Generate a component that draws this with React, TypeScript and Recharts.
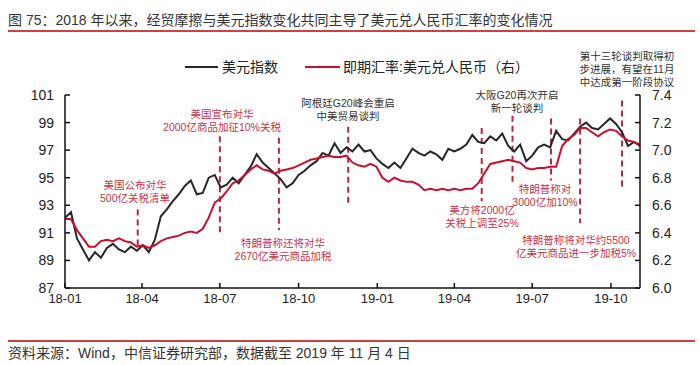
import { LineChart, Line, XAxis, YAxis, ReferenceLine } from "recharts"

const START = Date.UTC(2018, 0, 1)
const DAY = 86400000
const toDay = (s: string) => (Date.parse(s) - START) / DAY

// weekly readings (Mondays), 2018-01-01 .. 2019-11-04
const weekDays = Array.from({ length: 97 }, (_, i) => i * 7)

const dollarIndex = [
  92.1, 92.5, 90.6, 89.8, 89.0, 89.6, 89.2, 89.9, 90.2, 89.8,
  89.6, 90.0, 89.7, 90.1, 89.6, 90.5, 92.2, 92.7, 93.3, 93.8,
  94.4, 94.8, 93.8, 93.9, 95.0, 95.2, 94.3, 94.5, 95.0, 94.6,
  95.2, 95.8, 96.7, 96.1, 95.7, 95.3, 94.9, 94.3, 94.6, 95.2,
  95.5, 95.9, 96.2, 96.8, 96.6, 97.5, 96.8, 97.2, 96.9, 97.4,
  96.9, 97.0, 96.4, 96.0, 95.7, 96.1, 95.7, 96.4, 97.1, 96.8,
  96.6, 96.9, 96.7, 96.3, 97.1, 96.9, 97.1, 97.4, 98.1, 97.6,
  97.5, 98.0, 97.7, 98.2, 97.3, 96.9, 97.4, 96.2, 96.6, 97.2,
  97.4, 97.2, 98.4, 97.8, 97.7, 98.2, 98.7, 99.0, 98.6, 98.5,
  98.9, 99.3, 98.9, 98.3, 97.3, 97.6, 97.3,
]

const usdCny = [
  6.50, 6.50, 6.42, 6.36, 6.30, 6.30, 6.34, 6.35, 6.34, 6.36,
  6.34, 6.33, 6.30, 6.31, 6.29, 6.31, 6.34, 6.36, 6.37, 6.38,
  6.40, 6.41, 6.40, 6.43, 6.51, 6.62, 6.65, 6.70, 6.76, 6.78,
  6.82, 6.86, 6.89, 6.86, 6.85, 6.83, 6.85, 6.86, 6.87, 6.89,
  6.91, 6.93, 6.94, 6.95, 6.96, 6.95, 6.95, 6.96, 6.91, 6.89,
  6.88, 6.90, 6.88, 6.80, 6.77, 6.80, 6.78, 6.77, 6.77, 6.75,
  6.71, 6.72, 6.71, 6.72, 6.71, 6.72, 6.71, 6.72, 6.72, 6.76,
  6.83, 6.90, 6.91, 6.92, 6.93, 6.92, 6.91, 6.87, 6.86, 6.87,
  6.87, 6.88, 6.88, 7.03, 7.08, 7.11, 7.16, 7.16, 7.13, 7.10,
  7.13, 7.15, 7.14, 7.10, 7.07, 7.06, 7.04,
]

const tickLabels = ["18-01", "18-04", "18-07", "18-10", "19-01", "19-04", "19-07", "19-10"]
const tickDays = tickLabels.map((l) => toDay(`20${l}-01`))
const leftTicks = [87, 89, 91, 93, 95, 97, 99, 101]
const rightTicks = [6.0, 6.2, 6.4, 6.6, 6.8, 7.0, 7.2, 7.4]

// event markers: date and the dollar-index span of the dashed line
const eventDates = ["2018-03-27", "2018-07-01", "2018-09-08", "2018-11-28", "2019-05-03", "2019-06-08", "2019-07-23", "2019-08-26", "2019-10-14"]
const eventTop = [92.7, 98.0, 97.9, 98.7, 98.6, 99.5, 99.3, 99.3, 100.6]
const eventBottom = [90.0, 91.0, 91.2, 92.9, 93.3, 94.6, 94.8, 91.7, 94.1]

const BLACK = "#262626"
const RED = "#c8102e"
const NOTE_RED = "#c8324a"
const NOTE_DARK = "#333"
const FONT = "'Liberation Sans', 'Noto Sans CJK SC', sans-serif"

const data = weekDays.map((day, i) => ({ day, dxy: dollarIndex[i], cny: usdCny[i] }))

const notes = [
  { x: 135, y: 185, lines: ["美国公布对华", "500亿关税清单"], color: NOTE_RED },
  { x: 222, y: 114, lines: ["美国宣布对华", "2000亿商品加征10%关税"], color: NOTE_RED },
  { x: 283, y: 243, lines: ["特朗普称还将对华", "2670亿美元商品加税"], color: NOTE_RED },
  { x: 348, y: 103, lines: ["阿根廷G20峰会重启", "中美贸易谈判"], color: NOTE_DARK },
  { x: 482, y: 210, lines: ["美方将2000亿", "关税上调至25%"], color: NOTE_RED },
  { x: 517, y: 95, lines: ["大阪G20再次开启", "新一轮谈判"], color: NOTE_DARK },
  { x: 545, y: 189, lines: ["特朗普称对", "3000亿加10%"], color: NOTE_RED },
  { x: 576, y: 240, lines: ["特朗普称将对华约5500", "亿美元商品进一步加税5%"], color: NOTE_RED },
  { x: 627, y: 56, lines: ["第十三轮谈判取得初", "步进展，有望在11月", "中达成第一阶段协议"], color: NOTE_DARK },
]

export default function App() {
  const axisProps = {
    stroke: "#111",
    strokeWidth: 1.5,
    tickSize: -5,
    tick: { fontSize: 14, fill: "#222", fontFamily: FONT },
  }
  return (
    <div style={{ position: "absolute", left: 0, top: 0, width: 700, height: 365, background: "#fff" }}>
      <LineChart width={700} height={365} data={data} margin={{ top: 95, right: 0, bottom: 47, left: 0 }}>
        <XAxis
          dataKey="day"
          type="number"
          domain={[0, 672]}
          ticks={tickDays}
          tickFormatter={(v: number) => tickLabels[tickDays.indexOf(v)] ?? ""}
          height={30}
          {...axisProps}
          tick={{ fontSize: 13, fill: "#222", fontFamily: FONT }}
          tickMargin={11}
        />
        <YAxis
          yAxisId="left"
          domain={[87, 101]}
          ticks={leftTicks}
          width={65}
          tickMargin={16}
          {...axisProps}
        />
        <YAxis
          yAxisId="right"
          orientation="right"
          domain={[6.0, 7.4]}
          ticks={rightTicks}
          tickFormatter={(v: number) => v.toFixed(1)}
          width={60}
          tickMargin={17}
          {...axisProps}
        />
        {eventDates.map((d, i) => (
          <ReferenceLine
            key={d}
            yAxisId="left"
            segment={[{ x: toDay(d), y: eventTop[i] }, { x: toDay(d), y: eventBottom[i] }]}
            stroke="#b8283c"
            strokeWidth={2}
            strokeDasharray="6 4"
          />
        ))}
        <Line yAxisId="left" type="linear" dataKey="dxy" stroke={BLACK} strokeWidth={2} dot={false} isAnimationActive={false} />
        <Line yAxisId="right" type="linear" dataKey="cny" stroke={RED} strokeWidth={2} dot={false} isAnimationActive={false} />
      </LineChart>
      <svg width={700} height={365} style={{ position: "absolute", left: 0, top: 0, pointerEvents: "none" }} fontFamily={FONT}>
        <text x={8} y={20} fontSize={14} fill="#333" dominantBaseline="central">
          图 75：2018 年以来，经贸摩擦与美元指数变化共同主导了美元兑人民币汇率的变化情况
        </text>
        <line x1={8} x2={695} y1={31} y2={31} stroke="#c00000" strokeWidth={1.5} />
        <line x1={185} x2={218} y1={67} y2={67} stroke={BLACK} strokeWidth={2} />
        <text x={222} y={67} fontSize={14} fill="#222" dominantBaseline="central">美元指数</text>
        <line x1={305} x2={340} y1={67} y2={67} stroke={RED} strokeWidth={2} />
        <text x={343} y={67} fontSize={14} fill="#222" dominantBaseline="central">即期汇率:美元兑人民币（右）</text>
        {notes.map((n) =>
          n.lines.map((t, j) => (
            <text key={t} x={n.x} y={n.y + j * 13} fontSize={10.5} fill={n.color} textAnchor="middle" dominantBaseline="central">
              {t}
            </text>
          ))
        )}
        <line x1={8} x2={695} y1={341} y2={341} stroke="#c00000" strokeWidth={1.5} />
        <text x={8} y={353} fontSize={14} fill="#333" dominantBaseline="central">
          资料来源：Wind，中信证券研究部，数据截至 2019 年 11 月 4 日
        </text>
      </svg>
    </div>
  )
}
